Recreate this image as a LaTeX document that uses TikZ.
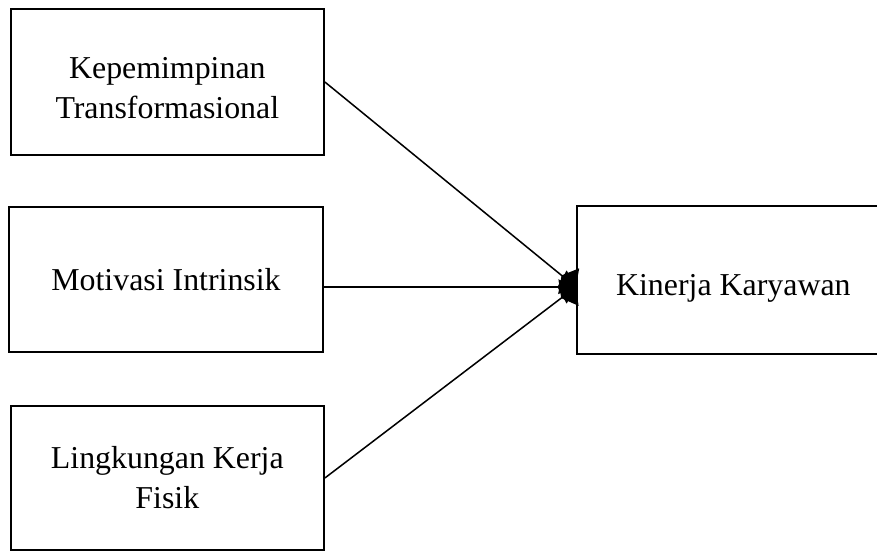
\documentclass[tikz,border=0pt]{standalone}
\usepackage{fontspec}
\setmainfont{Liberation Serif}
\usetikzlibrary{arrows.meta,calc}
\tikzset{
	var/.style={draw,line width=1.5pt,minimum width=9.4cm,minimum height=4.4cm,align=center,inner sep=0pt},
	link/.style={line width=1.3pt,-{Diamond[length=0.55cm,width=1cm]}}
}

\begin{document}
\begin{tikzpicture}
		\fontsize{27.2}{34}\selectfont
		\useasboundingbox (0,0) rectangle (26.31,16.53);

		\node[var] (kepemimpinan) at (5.02,14.07) {};
		\node[align=center] (kepemimpinan-text) at ($(kepemimpinan)+(0,-0.18)$) {Kepemimpinan\\Transformasional};
		\node[var,minimum height=4.35cm] (motivasi) at (4.98,8.15) {Motivasi Intrinsik};
		\node[var,minimum height=4.32cm] (lingkungan) at (5.02,2.19) {\fontsize{27.2}{39}\selectfont Lingkungan Kerja\\Fisik};

		\node[var,minimum height=4.44cm] (kinerja) at (22.0,8.13) {\raisebox{-0.24cm}[\height][\depth]{Kinerja Karyawan}};
		\coordinate (hub) at ($(kinerja.west)+(0,-0.21)$);

		\draw[link] (kepemimpinan.east) -- (hub);
		\draw[link] (motivasi.east |- hub) -- (hub);
		\draw[link] (lingkungan.east) -- (hub);
	\end{tikzpicture}
\end{document}
